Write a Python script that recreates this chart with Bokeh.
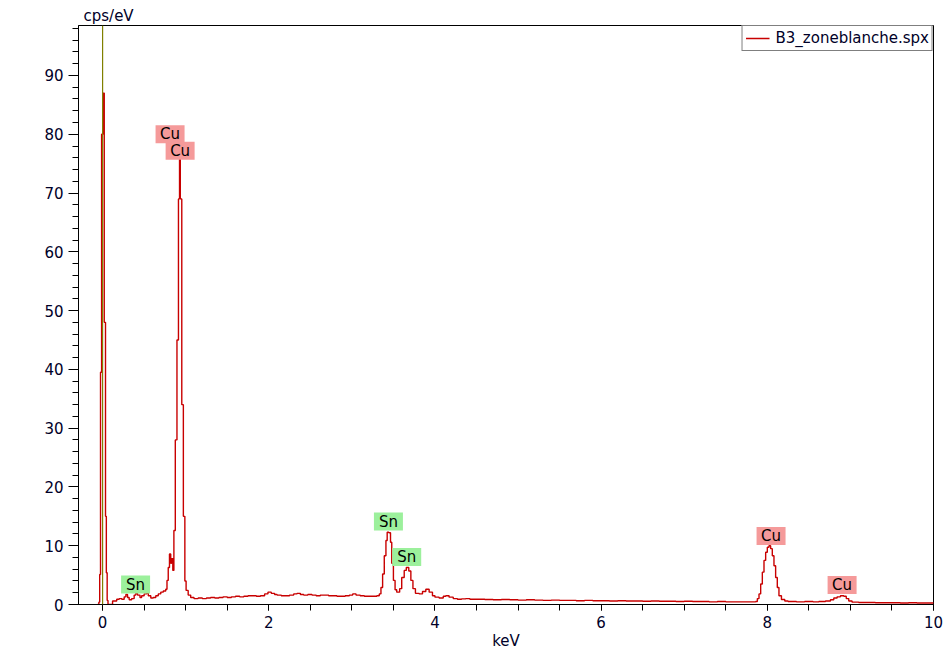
from bokeh.plotting import figure
from bokeh.models import Range1d, SingleIntervalTicker, Span, Legend, LegendItem, ColumnDataSource, Title
from bokeh.core.properties import value
from bokeh.embed import file_html
from bokeh.resources import INLINE

# ---------------- data ----------------
# spectrum as step breakpoints: energy (keV) and counts (cps/eV)
kev = [-0.06, -0.045, -0.035, -0.025, -0.012, 0.004, 0.02, 0.035, 0.045, 0.055, 0.065,
       0.12, 0.15, 0.17, 0.20, 0.23, 0.26, 0.28, 0.30, 0.32, 0.35, 0.38, 0.40, 0.42, 0.45,
       0.47, 0.50, 0.53, 0.55, 0.58, 0.61, 0.64, 0.67, 0.70, 0.73, 0.76, 0.775, 0.79, 0.805,
       0.82, 0.83, 0.845, 0.858, 0.875, 0.895, 0.913, 0.926, 0.935, 0.953, 0.972, 0.99,
       1.005, 1.03, 1.06, 1.10, 1.15, 1.20, 1.25, 1.30, 1.35, 1.40, 1.45, 1.50, 1.55, 1.60,
       1.65, 1.70, 1.75, 1.80, 1.85, 1.90, 1.95, 1.99, 2.03, 2.07, 2.10, 2.15, 2.20, 2.25,
       2.30, 2.34, 2.38, 2.42, 2.47, 2.52, 2.57, 2.62, 2.67, 2.72, 2.77, 2.82, 2.87, 2.92,
       2.97, 3.01, 3.05, 3.10, 3.15, 3.20, 3.25, 3.30, 3.33, 3.35, 3.37, 3.39, 3.41, 3.425,
       3.445, 3.465, 3.48, 3.50, 3.52, 3.54, 3.575, 3.60, 3.63, 3.655, 3.685, 3.71, 3.735,
       3.765, 3.81, 3.85, 3.89, 3.93, 3.97, 4.00, 4.05, 4.10, 4.13, 4.17, 4.22, 4.27, 4.32,
       4.37, 4.42, 4.50, 4.60, 4.70, 4.80, 4.90, 5.00, 5.10, 5.20, 5.30, 5.40, 5.50, 5.60,
       5.70, 5.80, 5.90, 6.00, 6.10, 6.20, 6.30, 6.40, 6.50, 6.60, 6.70, 6.80, 6.90, 7.00,
       7.10, 7.20, 7.30, 7.40, 7.50, 7.60, 7.70, 7.80, 7.86, 7.88, 7.90, 7.92, 7.94, 7.96,
       7.98, 8.00, 8.02, 8.04, 8.06, 8.08, 8.10, 8.12, 8.14, 8.17, 8.21, 8.25, 8.35, 8.45,
       8.55, 8.62, 8.70, 8.76, 8.80, 8.84, 8.88, 8.92, 8.95, 8.98, 9.02, 9.10, 9.20, 9.30,
       9.40, 9.50, 9.60, 9.70, 9.80, 9.90, 10.0]
cps = [0.0, 0.4, 5.1, 39.5, 80.0, 87.0, 48.0, 15.0, 5.4, 0.7, 0.0,
       0.6, 0.6, 0.9, 1.0, 0.9, 1.3, 1.7, 1.2, 0.8, 1.0, 1.6, 1.9, 1.6, 1.2,
       1.5, 1.8, 1.9, 1.5, 1.1, 1.2, 1.5, 1.8, 2.1, 2.3, 2.6, 4.1, 6.3, 8.6,
       7.0, 7.8, 5.8, 12.6, 28.0, 45.0, 69.0, 76.0, 69.0, 34.0, 15.0, 4.0,
       2.4, 1.6, 1.2, 1.0, 1.1, 1.0, 1.1, 1.2, 1.1, 1.2, 1.3, 1.2, 1.3, 1.4,
       1.3, 1.4, 1.5, 1.5, 1.4, 1.5, 1.8, 2.1, 1.9, 1.7, 1.6, 1.5, 1.5, 1.6,
       1.8, 1.9, 1.7, 1.6, 1.7, 1.6, 1.5, 1.6, 1.6, 1.5, 1.5, 1.4, 1.4, 1.5,
       1.6, 1.8, 1.6, 1.5, 1.4, 1.4, 1.4, 1.5, 1.8, 2.9, 5.2, 8.3, 10.9, 12.3,
       12.2, 10.6, 7.0, 4.1, 2.5, 2.1, 2.7, 4.6, 5.8, 6.3, 5.7, 4.1, 2.7,
       1.9, 1.8, 2.2, 2.6, 2.1, 1.5, 1.25, 1.1, 1.4, 1.5, 1.25, 1.0, 0.9, 0.95,
       1.0, 0.9, 0.9, 0.85, 0.8, 0.85, 0.8, 0.75, 0.8, 0.75, 0.7, 0.75, 0.7, 0.7,
       0.65, 0.7, 0.65, 0.65, 0.6, 0.65, 0.6, 0.6, 0.55, 0.6, 0.55, 0.55, 0.5, 0.55,
       0.5, 0.5, 0.45, 0.5, 0.45, 0.45, 0.45, 0.45, 0.5, 1.0, 1.8, 3.5, 5.5, 7.5,
       8.9, 9.75, 10.0, 9.5, 8.3, 6.6, 4.6, 2.9, 1.5, 0.85, 0.6, 0.5, 0.45, 0.5,
       0.45, 0.5, 0.6, 0.8, 1.1, 1.3, 1.5, 1.4, 1.0, 0.6, 0.4, 0.35, 0.35, 0.3,
       0.3, 0.3, 0.25, 0.3, 0.25, 0.25, 0.2]

zero_peak_kev = 0.0

# element labels: text, centre of the box (keV, cps/eV), colour
lab_text = ["Cu", "Cu", "Sn", "Sn", "Sn", "Cu", "Cu"]
lab_x = [0.812, 0.933, 0.397, 3.44, 3.66, 8.045, 8.90]
lab_y = [80.0, 77.2, 3.4, 14.1, 8.1, 11.65, 3.3]
lab_col = ["#f59a9a", "#f59a9a", "#9cf09c", "#9cf09c", "#9cf09c", "#f59a9a", "#f59a9a"]

series_name = "B3_zoneblanche.spx"
FONT = "DejaVu Sans"
FS = "15px"
TXT = "#000028"

# ---------------- figure ----------------
p = figure(width=943, height=653, output_backend="svg", toolbar_location=None,
           x_range=Range1d(-0.29, 10.0), y_range=Range1d(0, 98.5),
           min_border_left=78, min_border_right=10, min_border_top=25, min_border_bottom=49)
p.background_fill_color = "white"
p.border_fill_color = "white"
p.outline_line_color = "black"
p.outline_line_width = 1
p.xgrid.visible = False
p.ygrid.visible = False

# y unit as a left-aligned title above the frame
p.title = Title(text="cps/eV", align="left", offset=5, standoff=2,
                text_font=FONT, text_font_size=FS, text_font_style="normal", text_color=TXT)

# spectrum
r = p.step(kev, cps, mode="after", line_color="#c80000", line_width=1.4)

# zero-peak marker
p.add_layout(Span(location=zero_peak_kev, dimension="height", line_color="#808000", line_width=1.2))

# element labels
src = ColumnDataSource(dict(x=lab_x, y=lab_y, t=lab_text, c=lab_col))
p.rect(x="x", y="y", width=29, height=18, width_units="screen", height_units="screen",
       source=src, fill_color="c", line_color=None)
p.text(x="x", y="y", text="t", source=src, text_align="center", text_baseline="middle",
       text_font=value(FONT), text_font_size=FS, text_color="black")

# axes
xa = p.xaxis[0]
xa.ticker = SingleIntervalTicker(interval=2, num_minor_ticks=4)
xa.axis_label = "keV"
xa.axis_label_text_font = FONT
xa.axis_label_text_font_style = "normal"
xa.axis_label_text_font_size = FS
xa.axis_label_text_color = TXT
xa.axis_label_standoff = 1
xa.major_label_text_font = FONT
xa.major_label_text_font_size = FS
xa.major_label_text_color = TXT
xa.major_label_standoff = 5
xa.major_tick_out = 6
xa.major_tick_in = 0
xa.minor_tick_out = 6
xa.minor_tick_in = 0
xa.axis_line_color = "black"

ya = p.yaxis[0]
ya.ticker = SingleIntervalTicker(interval=10, num_minor_ticks=5)
ya.major_label_text_font = FONT
ya.major_label_text_font_size = FS
ya.major_label_text_color = TXT
ya.major_label_standoff = 5
ya.major_tick_out = 10
ya.major_tick_in = 0
ya.minor_tick_out = 6
ya.minor_tick_in = 0
ya.axis_line_color = "black"

# legend
leg = Legend(items=[LegendItem(label=series_name, renderers=[r])], location="top_right",
             margin=0, padding=3, spacing=0, glyph_width=24, glyph_height=16,
             label_height=16, label_standoff=6,
             label_text_font=FONT, label_text_font_size=FS, label_text_color=TXT,
             border_line_color="black", border_line_width=1, background_fill_alpha=1)
p.add_layout(leg)

open("out.html", "w").write(file_html(p, INLINE))
